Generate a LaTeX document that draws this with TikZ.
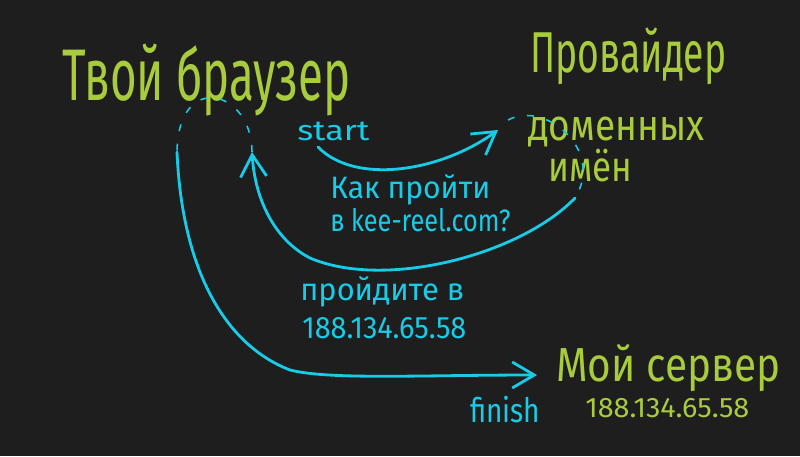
\documentclass[tikz,border=0pt]{standalone}
\usepackage{fontspec}
\setmainfont{Fira Sans}
\usetikzlibrary{arrows.meta}
\definecolor{board}{RGB}{30,30,30}
\definecolor{chalkgreen}{RGB}{168,204,60}
\definecolor{chalkcyan}{RGB}{22,204,232}
% width in cm, font size in pt, text
\newcommand\chalk[3]{\resizebox{#1cm}{\height}{\fontsize{#2}{#2}\selectfont #3}}

\begin{document}
\begin{tikzpicture}[x=0.025cm, y=-0.025cm,
    big/.style={text=chalkgreen, inner sep=0pt, anchor=base west},
    note/.style={text=chalkcyan, inner sep=0pt, anchor=base west},
    wire/.style={draw=chalkcyan, line width=2pt, line cap=round, line join=round},
    hidden/.style={draw=chalkcyan, line width=1.1pt, dash pattern=on 5pt off 9pt},
    tip/.style={-{Straight Barb[length=5.5mm, width=6.5mm]}}]
  \fill[board] (0,0) rectangle (800,456);

  % ---------- green labels --------------------------------------------------
  \node[big] (browser) at (62,100)  {\chalk{7.2}{52}{Твой браузер}};
  \node[big] (isp)     at (530,72)  {\chalk{4.9}{41}{Провайдер}};
  \node[big] (dns1)    at (528,140) {\chalk{4.4}{31}{доменных}};
  \node[big] (dns2)    at (548,181) {\chalk{2.1}{30}{имён}};
  \node[big] (server)  at (556,381) {\chalk{5.6}{34}{Мой сервер}};
  \node[big] (srvip)   at (585,417) {\chalk{4.1}{20}{188.134.65.58}};

  % ---------- cyan labels ---------------------------------------------------
  \node[note] (start)  at (297,140) {\chalk{1.8}{20}{start}};
  \node[note] (ask1)   at (330,198) {\chalk{4.0}{22}{Как пройти}};
  \node[note] (ask2)   at (330,231) {\chalk{4.5}{22}{в kee-reel.com?}};
  \node[note] (reply1) at (300,300) {\chalk{4.1}{22}{пройдите в}};
  \node[note] (reply2) at (302,338) {\chalk{4.1}{22}{188.134.65.58}};
  \node[note] (finish) at (470,422) {\chalk{1.75}{24}{finish}};

  % ---------- arrows --------------------------------------------------------
  \coordinate (goOut)  at (318,147);
  \coordinate (goIn)   at (498,130);
  \coordinate (dnsA)   at (508,120);
  \coordinate (dnsB)   at (575,198);
  \coordinate (backIn) at (252,152);
  \coordinate (brwL)   at (177,152);
  \coordinate (goSrv)  at (537,375);

  \draw[wire, tip] (goOut) .. controls (355,185) and (440,172) .. (goIn);
  \draw[hidden] (dnsA) .. controls (545,100) and (605,150) .. (dnsB);
  \draw[wire, tip] (dnsB) .. controls (520,255) and (385,290) .. (310,258)
                   .. controls (275,240) and (255,200) .. (backIn);
  \draw[hidden] (backIn) .. controls (252,90) and (178,70) .. (brwL);
  \draw[wire, tip] (brwL) .. controls (182,270) and (225,345) .. (290,370)
                   .. controls (330,380) and (420,375) .. (goSrv);
\end{tikzpicture}
\end{document}
